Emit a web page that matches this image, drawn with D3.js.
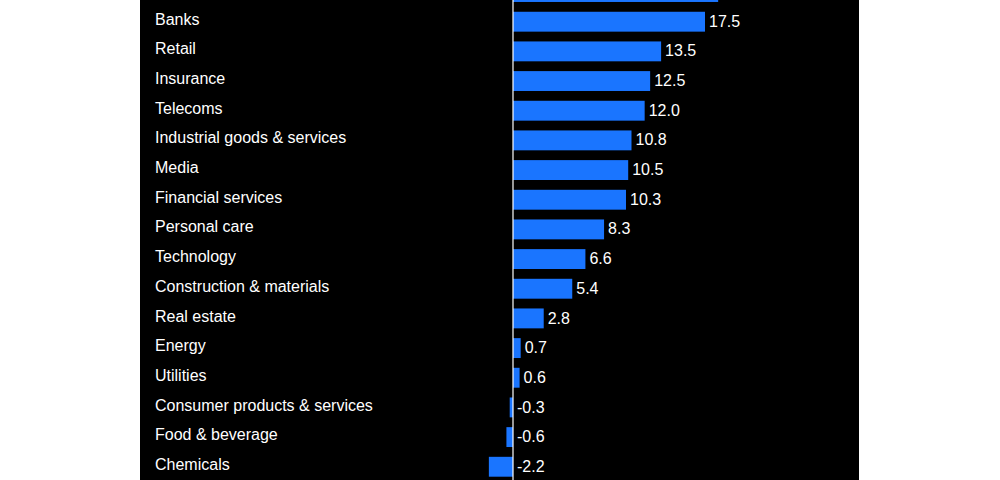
<!DOCTYPE html>
<html>
<head>
<meta charset="utf-8">
<script src="https://cdn.jsdelivr.net/npm/d3@7"></script>
<style>
  html, body { margin: 0; padding: 0; background: #ffffff; }
  svg { display: block; }
</style>
</head>
<body>
<svg id="chart" width="1000" height="480"></svg>
<script>
const categories = ["Autos", "Banks", "Retail", "Insurance", "Telecoms", "Industrial goods & services", "Media",
  "Financial services", "Personal care", "Technology", "Construction & materials", "Real estate",
  "Energy", "Utilities", "Consumer products & services", "Food & beverage", "Chemicals"];
const values = [18.7, 17.5, 13.5, 12.5, 12.0, 10.8, 10.5, 10.3, 8.3, 6.6, 5.4, 2.8, 0.7, 0.6, -0.3, -0.6, -2.2];
const valueLabels = ["18.7", "17.5", "13.5", "12.5", "12.0", "10.8", "10.5", "10.3", "8.3", "6.6", "5.4", "2.8", "0.7", "0.6", "-0.3", "-0.6", "-2.2"];

const data = categories.map((c, i) => ({ cat: c, val: values[i], lab: valueLabels[i] }));

const svg = d3.select("#chart");
const W = 1000, H = 480;
const panelLeft = 140, panelRight = 859;
const font = "'Liberation Sans', Arial, Helvetica, sans-serif";

svg.append("rect").attr("x", panelLeft).attr("y", 0)
  .attr("width", panelRight - panelLeft).attr("height", H).attr("fill", "#000000");

const x = d3.scaleLinear().domain([0, 17.5]).range([513, 705]);
const step = 29.67;
const y0 = -22.8;
const y = d3.scaleBand().domain(categories)
  .range([y0, y0 + categories.length * step])
  .paddingInner(0.33).paddingOuter(0.165);

const g = svg.append("g");

g.selectAll("rect.bar").data(data).join("rect")
  .attr("class", "bar")
  .attr("x", d => Math.min(x(0), x(d.val)))
  .attr("y", d => y(d.cat))
  .attr("width", d => Math.abs(x(d.val) - x(0)))
  .attr("height", y.bandwidth())
  .attr("fill", "#1a75ff");

g.append("line")
  .attr("x1", x(0)).attr("x2", x(0))
  .attr("y1", 0).attr("y2", H)
  .attr("stroke", "#ffffff").attr("stroke-width", 1.2);

g.selectAll("text.cat").data(data).join("text")
  .attr("class", "cat")
  .attr("x", 155)
  .attr("y", d => y(d.cat) + y.bandwidth() / 2 - 2.5)
  .attr("dy", "0.35em")
  .attr("fill", "#ffffff")
  .attr("font-family", font)
  .attr("font-size", 16)
  .text(d => d.cat);

g.selectAll("text.val").data(data).join("text")
  .attr("class", "val")
  .attr("x", d => Math.max(x(0), x(d.val)) + 4)
  .attr("y", d => y(d.cat) + y.bandwidth() / 2 - 0.5)
  .attr("dy", "0.35em")
  .attr("fill", "#ffffff")
  .attr("font-family", font)
  .attr("font-size", 16)
  .text(d => d.lab);
</script>
</body>
</html>
